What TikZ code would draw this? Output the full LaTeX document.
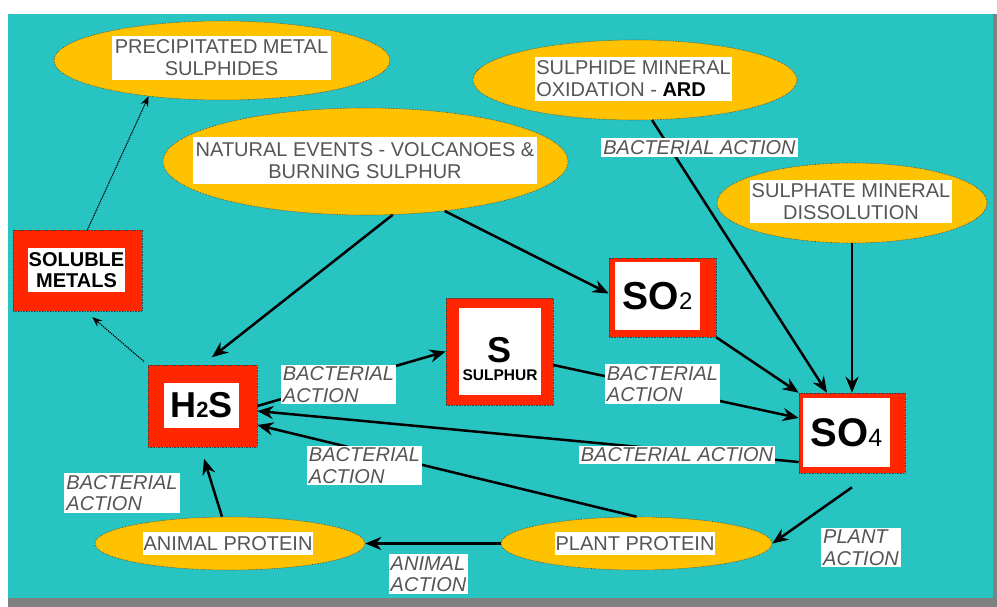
\documentclass[tikz,border=0pt]{standalone}
\usepackage{fontspec}
\setmainfont{Liberation Sans}
\usetikzlibrary{shapes.geometric,arrows.meta}
\definecolor{seablue}{RGB}{40,196,194}
\definecolor{eyellow}{RGB}{255,194,0}
\definecolor{boxred}{RGB}{255,38,0}
\definecolor{txtgrey}{RGB}{85,85,85}
\definecolor{rimgrey}{RGB}{128,128,128}
\tikzset{
  ell/.style={ellipse, fill=eyellow, draw=black!75, densely dotted, line width=0.6pt},
  etext/.style={fill=white, text=txtgrey, inner sep=1pt, align=center, font=\fontsize{20}{22}\selectfont},
  rbox/.style={rectangle, fill=boxred, draw=black!75, densely dotted, line width=0.6pt},
  wbox/.style={rectangle, fill=white, inner sep=0pt, align=center},
  lab/.style={fill=white, text=txtgrey, inner sep=2pt, align=left, font=\fontsize{20}{21.5}\selectfont\itshape},
  arr/.style={line width=2.5pt, -{Stealth[length=16pt,width=13pt]}},
  dotarr/.style={line width=1.2pt, densely dotted, -{Stealth[length=10pt,width=8pt]}},
}
\begin{document}
\begin{tikzpicture}[x=1pt,y=-1pt]
  \useasboundingbox (0,0) rectangle (997,607);
  \fill[white] (0,0) rectangle (997,607);
  \fill[seablue] (8,14) rectangle (993,598);
  \fill[rimgrey] (8,598) rectangle (997,607);
  \fill[rimgrey] (993,14) rectangle (997,598);

  \node[ell, minimum width=336, minimum height=79] (precip) at (222,60.5) {};
  \node[etext, minimum width=219, minimum height=44] (precip-t) at (221.5,58) {PRECIPITATED METAL\\SULPHIDES};
  \node[ell, minimum width=405, minimum height=107] (natural) at (365.5,161.5) {};
  \node[etext, minimum width=344, minimum height=47] (natural-t) at (365,160.5) {NATURAL EVENTS - VOLCANOES \&\\BURNING SULPHUR};
  \node[ell, minimum width=324, minimum height=80] (sulphide) at (635,80) {};
  \node[etext, align=left, minimum width=197, minimum height=44] (sulphide-t) at (633.5,79) {SULPHIDE MINERAL\\OXIDATION - {\color{black}\bfseries ARD}};
  \node[ell, minimum width=270, minimum height=80] (sulphate) at (852,203) {};
  \node[etext, minimum width=202, minimum height=43] (sulphate-t) at (851,201.5) {SULPHATE MINERAL\\DISSOLUTION};
  \node[ell, minimum width=270, minimum height=53] (animal) at (230,543.5) {};
  \node[etext, minimum width=170, minimum height=23] (animal-t) at (228,543.5) {ANIMAL PROTEIN};
  \node[ell, minimum width=271, minimum height=53] (plant) at (636.5,543.5) {};
  \node[etext, minimum width=160, minimum height=23] (plant-t) at (635,543.5) {PLANT PROTEIN};

  \node[rbox, minimum width=129, minimum height=81] (soluble) at (77.5,270.5) {};
  \node[wbox, minimum width=97, minimum height=44, font=\fontsize{20}{21}\selectfont\bfseries] (soluble-t) at (76.5,270) {SOLUBLE\\METALS};
  \node[rbox, minimum width=109, minimum height=82] (h2s) at (202.5,406) {};
  \node[wbox, minimum width=75, minimum height=45, font=\fontsize{36}{36}\selectfont\bfseries] (h2s-t) at (201.5,405.5) {H{\fontsize{22}{22}\selectfont 2}S};
  \node[rbox, minimum width=107, minimum height=107] (s) at (499.5,351.5) {};
  \node[wbox, minimum width=82, minimum height=87] (s-in) at (500,351.5) {};
  \node[align=center, inner sep=0pt] (s-t) at (500,359) {{\fontsize{36}{36}\selectfont\bfseries S}\\[6pt]{\fontsize{15.5}{15.5}\selectfont\bfseries SULPHUR}};
  \node[rbox, minimum width=107, minimum height=79] (so2) at (662.5,297.5) {};
  \node[wbox, minimum width=85, minimum height=68, font=\fontsize{39}{39}\selectfont\bfseries] (so2-t) at (657.5,296) {SO{\fontsize{24}{24}\selectfont\mdseries 2}};
  \node[rbox, minimum width=106, minimum height=80] (so4) at (852,433) {};
  \node[wbox, minimum width=87, minimum height=69, font=\fontsize{40}{40}\selectfont\bfseries] (so4-t) at (846.5,432.5) {SO{\fontsize{25}{25}\selectfont\mdseries 4}};

  \draw[dotarr] ([xshift=10]soluble.north) -- (precip.206);
  \draw[dotarr, shorten <=5pt, shorten >=9pt] (h2s.north west) -- ([xshift=8]soluble.south);
  \draw[arr, shorten >=12pt] (natural.297) -- (h2s.north);
  \draw[arr] (natural.328) -- ([yshift=4]so2.west);
  \draw[arr] (h2s.east) -- (s.west);
  \draw[arr] ([yshift=-13.5]s.east) -- ([yshift=15]so4.west);
  \draw[arr] (so2.south east) -- (so4.north west);
  \draw[arr] (sulphide.293) -- ([xshift=-25]so4.north);
  \draw[arr] (sulphate.south) -- (so4.north);
  \draw[arr] ([yshift=-29]so4.west) -- ([yshift=-5]h2s.east);
  \draw[arr] (plant.north) -- ([yshift=-19]h2s.east);
  \draw[arr] ([yshift=-14]so4.south) -- (plant.east);
  \draw[arr] (plant.west) -- (animal.east);
  \draw[arr, shorten >=12pt] ([xshift=-8]animal.north) -- ([xshift=-2]h2s.south);

  \node[lab] (bact-ard) at (699.5,147.5) {BACTERIAL ACTION};
  \node[lab] (bact-s) at (338.5,384.5) {BACTERIAL\\ACTION};
  \node[lab] (bact-so4) at (662.5,384) {BACTERIAL\\ACTION};
  \node[lab] (bact-back) at (677,455) {BACTERIAL ACTION};
  \node[lab] (bact-plant) at (364.5,465.5) {BACTERIAL\\ACTION};
  \node[lab] (bact-animal) at (122,493) {BACTERIAL\\ACTION};
  \node[lab] (act-animal) at (428.5,574) {ANIMAL\\ACTION};
  \node[lab] (act-plant) at (861,547.5) {PLANT\\ACTION};
\end{tikzpicture}
\end{document}
